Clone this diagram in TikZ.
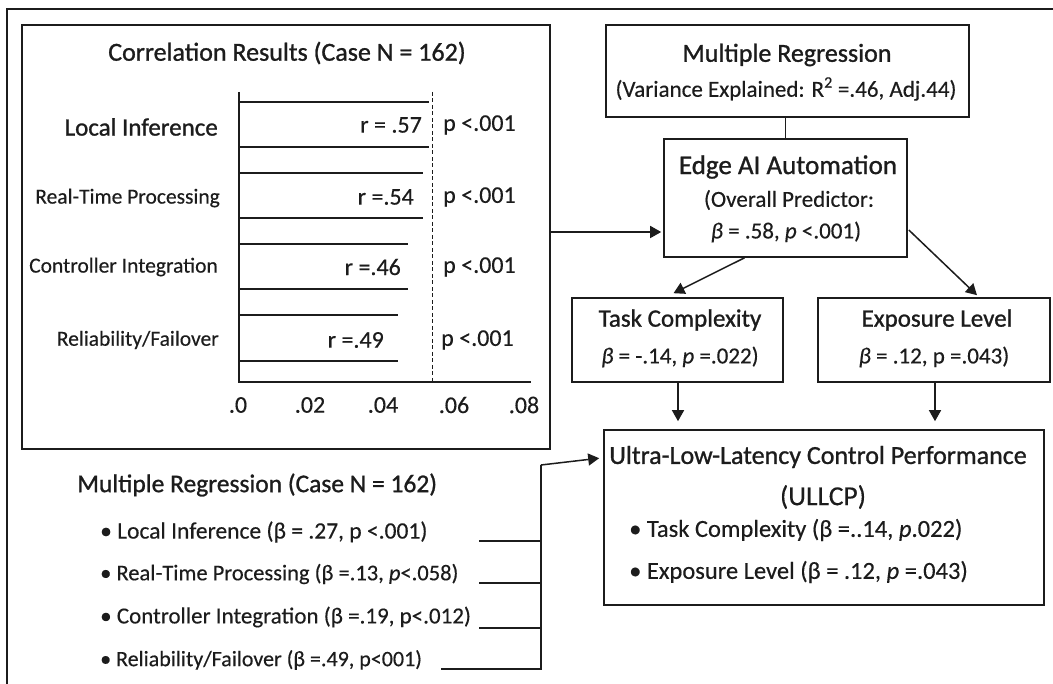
\documentclass[tikz,border=0pt]{standalone}
\usepackage{fontspec}
\setmainfont{Carlito}[FakeBold=0.3]
\newfontfamily\semib{Carlito}[FakeBold=1.0]
\usetikzlibrary{arrows.meta,calc}
\definecolor{ink}{RGB}{28,28,28}

\begin{document}
\begin{tikzpicture}[x=1pt,y=-1pt,
  every node/.style={text=ink},
  frame/.style={draw=ink, line width=1.6pt, inner sep=0pt},
  txt/.style={inner sep=0pt},
  barline/.style={draw=ink, line width=1.3pt},
  link/.style={draw=ink, line width=1.5pt},
  arr/.style={draw=ink, line width=1.5pt, -{Triangle[length=11pt,width=12pt]}},
  fhead/.style={font=\semib\fontsize{26}{29}\selectfont},
  flabel/.style={font=\fontsize{21.5}{25}\selectfont},
  fval/.style={font=\fontsize{24}{27}\selectfont},
  fsub/.style={font=\fontsize{23}{26}\selectfont},
  flist/.style={font=\fontsize{22.5}{26}\selectfont}]

\useasboundingbox (0,0) rectangle (1053,684);
\fill[white] (0,0) rectangle (1053,684);

% page frame (top and left edges)
\draw[ink, line width=1.6pt] (1053,9) -- (7,9) -- (7,684);

% ---------------- correlation panel ----------------
\node[frame, minimum width=528pt, minimum height=424pt] (corr) at (286,237) {};
\node[txt, fhead] (corrtitle) at (287,53) {Correlation Results (Case N = 162)};

% axes
\coordinate (o) at (239,382);
\draw[barline] (239,92) -- (o) -- (531,382);
\draw[ink, line width=1pt, dash pattern=on 4pt off 2.5pt] (432,92) -- (432,382);

% bars (top and bottom edges)
\draw[barline] (239,102) -- (429,102) (239,147) -- (429,147);
\draw[barline] (239,173) -- (423,173) (239,218) -- (423,218);
\draw[barline] (239,244) -- (408,244) (239,289) -- (408,289);
\draw[barline] (239,315) -- (398,315) (239,361) -- (398,361);

% row labels
\node[txt, anchor=east, font=\semib\fontsize{25}{28}\selectfont] (l1) at (218,127) {Local Inference};
\node[txt, flabel, anchor=east] (l2) at (220,198) {Real-Time Processing};
\node[txt, flabel, anchor=east] (l3) at (218,267) {Controller Integration};
\node[txt, flabel, anchor=east] (l4) at (219,340) {Reliability/Failover};

% r values
\node[txt, fval, anchor=east] (r1) at (422,125) {r = .57};
\node[txt, fval, anchor=east] (r2) at (414,197) {r =.54};
\node[txt, fval, anchor=east] (r3) at (401,267) {r =.46};
\node[txt, fval, anchor=east] (r4) at (384,340) {r =.49};

% p values
\node[txt, fval, anchor=west] (p1) at (443,125) {p <.001};
\node[txt, fval, anchor=west] (p2) at (443,197) {p <.001};
\node[txt, fval, anchor=west] (p3) at (443,267) {p <.001};
\node[txt, fval, anchor=west] (p4) at (441,340) {p <.001};

% tick labels
\node[txt, fval] (t0) at (238,405) {.0};
\node[txt, fval] (t1) at (310,405) {.02};
\node[txt, fval] (t2) at (383,405) {.04};
\node[txt, fval] (t3) at (454,405) {.06};
\node[txt, fval] (t4) at (524,405) {.08};

% ---------------- regression model ----------------
\node[frame, minimum width=363pt, minimum height=92pt] (mr) at (787.5,71) {};
\node[txt, fhead] at (787,55) {Multiple Regression};
\node[txt, fsub] at (786,89) {(Variance Explained: R\textsuperscript{2} =.46, Adj.44)};

\node[frame, minimum width=243pt, minimum height=118pt] (edge) at (785.5,198) {};
\node[txt, font=\semib\fontsize{27}{30}\selectfont] at (788,167) {Edge AI Automation};
\node[txt, fsub] at (789,200) {(Overall Predictor:};
\node[txt, fsub] at (786,232) {\textit{β} = .58, \textit{p} <.001)};

\node[frame, minimum width=211pt, minimum height=84pt] (task) at (677.5,340) {};
\node[txt, font=\semib\fontsize{25}{28}\selectfont] at (680,320) {Task Complexity};
\node[txt, fsub] at (680,357) {\textit{β} = -.14, \textit{p} =.022)};

\node[frame, minimum width=232pt, minimum height=84pt] (expo) at (934,340) {};
\node[txt, font=\semib\fontsize{25}{28}\selectfont] at (937,320) {Exposure Level};
\node[txt, fsub] at (934,357) {\textit{β} = .12, p =.043)};

\node[frame, minimum width=440pt, minimum height=175pt] (ull) at (824,517.5) {};
\node[txt, fhead] at (818,457) {Ultra-Low-Latency Control Performance};
\node[txt, font=\fontsize{27.5}{30}\selectfont] at (823,497) {(ULLCP)};
\node[txt, font=\fontsize{24.5}{27}\selectfont, anchor=west] at (629,530) {• Task Complexity (β =..14, \textit{p}.022)};
\node[txt, font=\fontsize{24.5}{27}\selectfont, anchor=west] at (629,572) {• Exposure Level (β = .12, \textit{p} =.043)};

% connectors
\draw[link] (edge.north |- mr.south) -- (edge.north);
\draw[arr] (corr.east |- 0,232) -- ($(edge.west)+(-2,34)$);
\draw[arr] ($(edge.south)+(-41,0)$) -- ($(task.north)+(-4,-4)$);
\draw[arr] ($(edge.east)+(1,32)$) -- ($(expo.north)+(43,-2)$);
\draw[arr] ($(task.south)+(0.5,0)$) -- ($(task.south |- ull.north)+(0.5,-8)$);
\draw[arr] ($(expo.south)+(1,0)$) -- ($(expo.south |- ull.north)+(1,-8)$);

% ---------------- regression list ----------------
\node[txt, anchor=west, font=\semib\fontsize{25.5}{28}\selectfont] (mrlist) at (77,485) {Multiple Regression (Case N = 162)};
\node[txt, anchor=west, font=\fontsize{23.5}{26}\selectfont] (b1) at (100,532) {• Local Inference (β = .27, p <.001)};
\node[txt, flist, anchor=west] (b2) at (100,574) {• Real-Time Processing (β =.13, \textit{p}<.058)};
\node[txt, anchor=west, font=\fontsize{23}{26}\selectfont] (b3) at (100,617) {• Controller Integration (β =.19, p<.012)};
\node[txt, anchor=west, font=\fontsize{22}{26}\selectfont] (b4) at (100,660) {• Reliability/Failover (β =.49, p<001)};

\coordinate (bustop) at (541,465);
\coordinate (s1) at (479,541);
\coordinate (s2) at (479,583);
\coordinate (s3) at (479,628);
\coordinate (s4) at (441,669);
\draw[link] (s4) -- (s4 -| bustop) -- (bustop);
\draw[link] (s1) -- (s1 -| bustop);
\draw[link] (s2) -- (s2 -| bustop);
\draw[link] (s3) -- (s3 -| bustop);
\draw[arr] (bustop) -- ($(ull.north west)+(-4,29)$);
\end{tikzpicture}
\end{document}
